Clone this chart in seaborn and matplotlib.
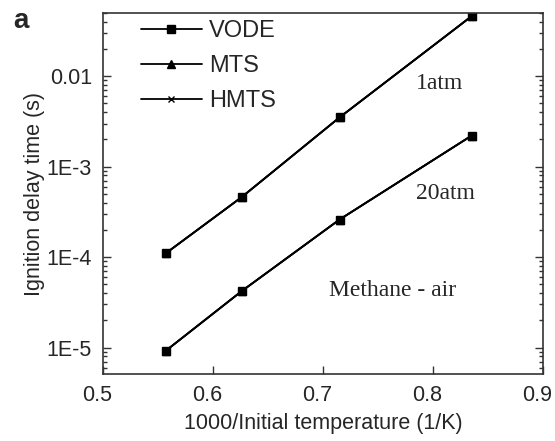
import numpy as np
import pandas as pd
import seaborn as sns
import matplotlib
matplotlib.use("Agg")
import matplotlib.pyplot as plt
import matplotlib.transforms as mtransforms
from matplotlib.ticker import FixedLocator, FuncFormatter, LogLocator, NullFormatter

# ---- data ----
x_vals = [0.557, 0.626, 0.715, 0.835]
delay_1atm = [1.1e-4, 4.6e-4, 3.5e-3, 4.6e-2]
delay_20atm = [9.2e-6, 4.2e-5, 2.6e-4, 2.2e-3]
methods = ["VODE", "MTS", "HMTS"]
method_markers = ["s", "^", "x"]
pressures = ["1atm", "20atm"]
x_ticks = [0.5, 0.6, 0.7, 0.8, 0.9]
y_ticks = [1e-5, 1e-4, 1e-3, 1e-2]
y_tick_labels = ["1E-5", "1E-4", "1E-3", "0.01"]

rows = []
for m in methods:
    for p, ys in zip(pressures, [delay_1atm, delay_20atm]):
        for xv, yv in zip(x_vals, ys):
            rows.append({"method": m, "pressure": p, "x": xv, "y": yv})
df = pd.DataFrame(rows)

sns.set_theme(style="ticks")
plt.rcParams["font.family"] = ["Liberation Sans", "DejaVu Sans"]

fig = plt.figure(figsize=(5.55, 4.41), dpi=100)
ax = fig.add_axes([0.1856, 0.1519, 0.7928, 0.8186])

for m, mk in zip(methods, method_markers):
    for i, p in enumerate(pressures):
        sub = df[(df.method == m) & (df.pressure == p)]
        sns.lineplot(data=sub, x="x", y="y", color="black", marker=mk,
                     markersize=5.5 if mk != "x" else 5, linewidth=1.3,
                     markeredgecolor="black", markeredgewidth=1.0,
                     label=m if i == 0 else None, ax=ax, legend=False)

ax.set_yscale("log")
ax.set_xlim(0.5, 0.9)
ax.set_ylim(5.1e-6, 0.05)
ax.xaxis.set_major_locator(FixedLocator(x_ticks))
ax.set_xticklabels([f"{t:.1f}" for t in x_ticks])
ax.yaxis.set_major_locator(FixedLocator(y_ticks))
ax.yaxis.set_major_formatter(FuncFormatter(lambda v, pos: dict(zip(y_ticks, y_tick_labels)).get(v, "")))
ax.yaxis.set_minor_locator(LogLocator(base=10, subs=np.arange(2, 10)))
ax.yaxis.set_minor_formatter(NullFormatter())

for s in ax.spines.values():
    s.set_color("#333333")
    s.set_linewidth(1.2)

ax.tick_params(axis="x", which="major", direction="in", length=6, width=1, labelsize=15.5, pad=8, color="#333333")
ax.tick_params(axis="y", which="major", direction="in", length=6, width=1, labelsize=15.5, pad=8,
               right=True, color="#333333")
ax.tick_params(axis="y", which="minor", direction="in", length=3, width=1, right=True, color="#333333")

# x tick labels sit slightly left of their ticks in the reference
shift = mtransforms.ScaledTranslation(-6 / 100, 0, fig.dpi_scale_trans)
for lbl in ax.get_xticklabels():
    lbl.set_transform(lbl.get_transform() + shift)

ax.set_xlabel("1000/Initial temperature (1/K)", fontsize=15.5, labelpad=5)
ax.set_ylabel("Ignition delay time (s)", fontsize=15.5, labelpad=1)

handles, labels = ax.get_legend_handles_labels()
leg = ax.legend(handles, labels, loc="upper left", bbox_to_anchor=(0.037, 1.04), frameon=False,
                fontsize=17, handlelength=2.6, handletextpad=0.3, labelspacing=0.55)

serif = ["Liberation Serif", "DejaVu Serif"]
ax.text(0.806, 0.0084, "1atm", family=serif, fontsize=17, ha="center", va="center")
ax.text(0.811, 5.0e-4, "20atm", family=serif, fontsize=17, ha="center", va="center")
ax.text(0.7636, 4.3e-5, "Methane - air", family=serif, fontsize=17, ha="center", va="center")

fig.text(0.038, 0.953, "a", fontsize=20, fontweight="bold", ha="center", va="center")

fig.savefig("out.png", dpi=100)
